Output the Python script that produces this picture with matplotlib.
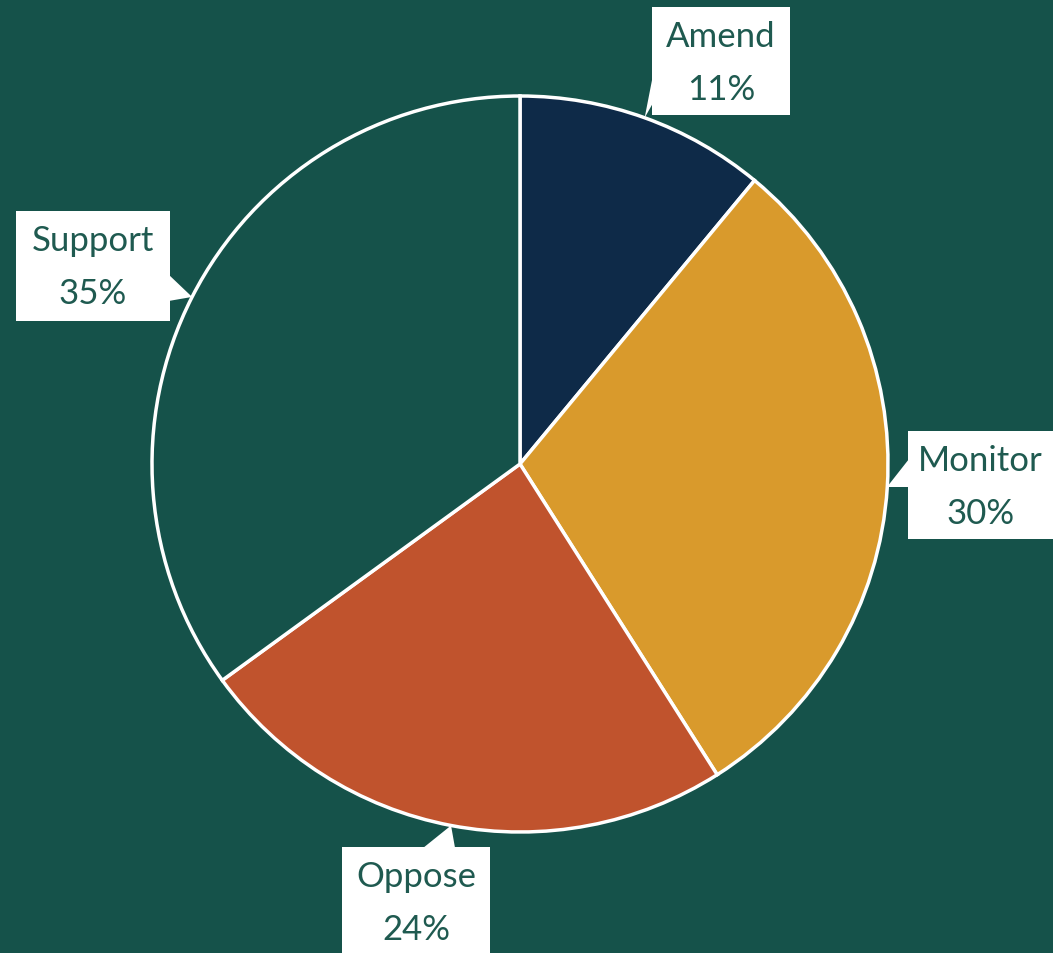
import numpy as np
import matplotlib.pyplot as plt
from matplotlib.patches import Rectangle, Polygon

labels = ['Amend', 'Monitor', 'Oppose', 'Support']
shares = [11, 30, 24, 35]
colors = ['#0e2a48', '#d99a2c', '#c0532d', '#15524a']

bg = '#15524a'
text_color = '#1f5a50'

W, H = 1053, 954
cx, cy, r = 520, H - 465, 368

fig = plt.figure(figsize=(W / 100, H / 100), dpi=100, facecolor=bg)
ax = fig.add_axes([0, 0, 1, 1])
ax.set_facecolor(bg)

ax.pie(shares, colors=colors, startangle=90, counterclock=False,
       center=(cx, cy), radius=r, frame=True,
       wedgeprops=dict(edgecolor='white', linewidth=2.5))
ax.set_xlim(0, W)
ax.set_ylim(0, H)
ax.set_aspect('equal')
ax.axis('off')

# label boxes: (left, top, right, bottom) in pixels, plus side of the pointer
boxes = {
    'Amend': ((652, 8, 790, 116), 'left'),
    'Monitor': ((908, 432, 1053, 540), 'left'),
    'Oppose': ((342, 848, 490, 960), 'top'),
    'Support': ((16, 212, 170, 322), 'right'),
}

cum = np.cumsum([0] + shares[:-1])
total = sum(shares)
for lab, val, c0 in zip(labels, shares, cum):
    mid = (c0 + val / 2) / total * 2 * np.pi
    tx = cx + r * np.sin(mid)
    ty = cy + r * np.cos(mid)
    (x0, y0, x1, y1), side = boxes[lab]
    ax.add_patch(Rectangle((x0, H - y1), x1 - x0, y1 - y0, facecolor='white',
                           edgecolor='none', zorder=5))
    if side == 'left':
        yb = min(max(H - ty, y0 + 14), y1 - 12)
        pts = [(x0 + 1, H - (yb - 28)), (x0 + 1, H - yb), (tx, ty)]
    elif side == 'right':
        yb = min(max(H - ty, y0 + 14), y1 - 14)
        pts = [(x1 - 1, H - (yb - 22)), (x1 - 1, H - (yb + 4)), (tx, ty)]
    else:
        pts = [(tx - 28, H - y0 - 1), (tx + 4, H - y0 - 1), (tx, ty)]
    ax.add_patch(Polygon(pts, closed=True, facecolor='white', edgecolor='none',
                         zorder=5))
    xm = (x0 + x1) / 2
    ax.text(xm, H - (y0 + 29), lab, ha='center', va='center', fontsize=25,
            family='Lato', color=text_color, zorder=6)
    ax.text(xm, H - (y0 + 82), f'{val}%', ha='center', va='center', fontsize=25,
            family='Lato', color=text_color, zorder=6)

fig.savefig('out.png', dpi=100, facecolor=bg)
